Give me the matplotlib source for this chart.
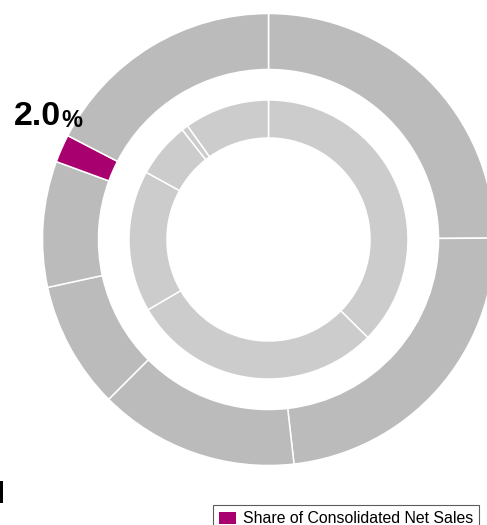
import matplotlib
matplotlib.use("Agg")
import matplotlib.pyplot as plt
from matplotlib.patches import Patch

# ---- data ----
outer_values = [24.9, 23.3, 14.3, 9.1, 9.0, 2.0, 17.4]
outer_highlight = 5          # index of highlighted segment
inner_values = [37.4, 29.2, 16.4, 6.4, 0.75, 9.85]
highlight_label = "2.0"
legend_label = "Share of Consolidated Net Sales"

GRAY_OUT = "#bbbbbb"
GRAY_IN = "#cccccc"
MAGENTA = "#a8006e"

W, H = 487, 525
fig = plt.figure(figsize=(W / 100, H / 100), dpi=100)
ax = fig.add_axes([0, 0, 1, 1])

cx, cy = 268.5, H - 239.5

outer_colors = [MAGENTA if i == outer_highlight else GRAY_OUT for i in range(len(outer_values))]
ax.pie(outer_values, colors=outer_colors, radius=226, center=(cx, cy),
       startangle=90, counterclock=False,
       wedgeprops=dict(width=56, edgecolor="white", linewidth=1.1))
ax.pie(inner_values, colors=[GRAY_IN] * len(inner_values), radius=139.5, center=(cx, cy),
       startangle=90, counterclock=False,
       wedgeprops=dict(width=38, edgecolor="white", linewidth=1.1))

ax.set_xlim(0, W)
ax.set_ylim(0, H)
ax.set_aspect("auto")
ax.axis("off")

t1 = ax.text(14, H - 125, highlight_label, fontsize=24.5, fontweight="bold",
             family=["Liberation Sans", "DejaVu Sans"], ha="left", va="baseline", color="black")
ax.annotate("%", xy=(1, 0), xycoords=t1, xytext=(0, 0), textcoords="offset points",
            fontsize=17, fontweight="bold", family=["Liberation Sans", "DejaVu Sans"],
            ha="left", va="bottom", color="black")

# cut-off glyph at left edge
ax.text(5, H - 503, "l", fontsize=21, fontweight="bold", family=["Liberation Sans", "DejaVu Sans"],
        ha="right", va="baseline", color="black")

handles = [Patch(facecolor=MAGENTA, edgecolor="none", label=legend_label)]
leg = ax.legend(handles=handles, loc="upper left", bbox_to_anchor=(212.7 / W, 1 - 505 / H),
                bbox_transform=fig.transFigure, frameon=True, fancybox=False,
                prop=dict(family=["Liberation Sans", "DejaVu Sans"], size=11.4),
                handlelength=1.05, handleheight=0.75, handletextpad=0.45, borderpad=0.4,
                borderaxespad=0)
leg.get_frame().set_edgecolor("#333333")
leg.get_frame().set_linewidth(0.8)

fig.savefig("out.png", dpi=100)
